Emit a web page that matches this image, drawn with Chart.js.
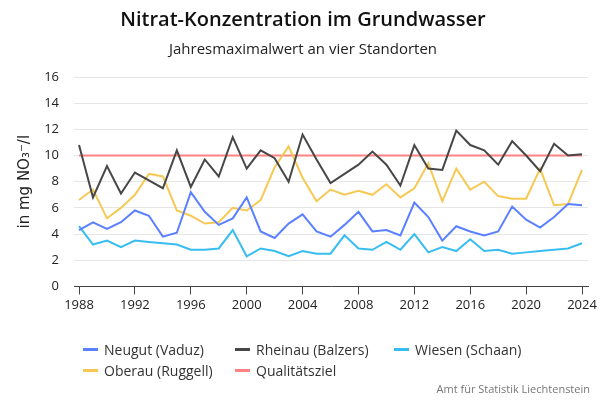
<!DOCTYPE html>
<html>
<head>
<meta charset="utf-8">
<script src="https://cdn.jsdelivr.net/npm/chart.js@4"></script>
<style>
  body { margin: 0; background: #fff; font-family: "Open Sans", sans-serif; }
  #wrap { position: relative; width: 600px; height: 400px; }
  #legend { position: absolute; left: 83px; top: 340px; display: grid;
    grid-template-columns: 152px 159px 170px; row-gap: 3px; font-size: 14px; color: #333; }
  #legend div { display: flex; align-items: center; height: 18px; white-space: nowrap; }
  #legend span.box { display: inline-block; width: 15px; height: 3px; margin-right: 6px; }
  #source { position: absolute; right: 10px; top: 381px; font-size: 11px; color: #777; }
</style>
</head>
<body>
<div id="wrap">
  <canvas id="chart" width="600" height="400"></canvas>
  <div id="legend"></div>
  <div id="source">Amt für Statistik Liechtenstein</div>
</div>
<script>
// years on the x axis
const years = [1988, 1989, 1990, 1991, 1992, 1993, 1994, 1995, 1996, 1997, 1998, 1999,
  2000, 2001, 2002, 2003, 2004, 2005, 2006, 2007, 2008, 2009, 2010, 2011,
  2012, 2013, 2014, 2015, 2016, 2017, 2018, 2019, 2020, 2021, 2022, 2023, 2024];
const tickYears = [1988, 1992, 1996, 2000, 2004, 2008, 2012, 2016, 2020, 2024];

// nitrate max per year, mg NO3/l
const neugut = [4.3, 4.9, 4.4, 4.9, 5.8, 5.4, 3.8, 4.1, 7.2, 5.7, 4.7, 5.2,
  6.8, 4.2, 3.7, 4.8, 5.5, 4.2, 3.8, 4.7, 5.7, 4.2, 4.3, 3.9,
  6.4, 5.3, 3.5, 4.6, 4.2, 3.9, 4.2, 6.1, 5.1, 4.5, 5.3, 6.3, 6.2];
const rheinau = [10.8, 6.8, 9.2, 7.1, 8.7, 8.1, 7.5, 10.4, 7.6, 9.7, 8.4, 11.4,
  9.0, 10.4, 9.8, 8.0, 11.6, 9.7, 7.9, 8.6, 9.3, 10.3, 9.3, 7.7,
  10.8, 9.0, 8.9, 11.9, 10.8, 10.4, 9.3, 11.1, 10.0, 8.8, 10.9, 10.0, 10.1];
const wiesen = [4.6, 3.2, 3.5, 3.0, 3.5, 3.4, 3.3, 3.2, 2.8, 2.8, 2.9, 4.3,
  2.3, 2.9, 2.7, 2.3, 2.7, 2.5, 2.5, 3.9, 2.9, 2.8, 3.4, 2.8,
  4.0, 2.6, 3.0, 2.7, 3.6, 2.7, 2.8, 2.5, 2.6, 2.7, 2.8, 2.9, 3.3];
const oberau = [6.6, 7.4, 5.2, 6.0, 7.0, 8.6, 8.4, 5.8, 5.4, 4.8, 4.9, 6.0,
  5.8, 6.6, 9.1, 10.7, 8.3, 6.5, 7.4, 7.0, 7.3, 7.0, 7.8, 6.8,
  7.5, 9.4, 6.5, 9.0, 7.4, 8.0, 6.9, 6.7, 6.7, 9.0, 6.2, 6.3, 8.9];
const qualitaetsziel = [10, 10, 10, 10, 10, 10, 10, 10, 10, 10, 10, 10,
  10, 10, 10, 10, 10, 10, 10, 10, 10, 10, 10, 10,
  10, 10, 10, 10, 10, 10, 10, 10, 10, 10, 10, 10, 10];

const series = [
  { label: 'Neugut (Vaduz)', data: neugut, color: '#5b80ff' },
  { label: 'Rheinau (Balzers)', data: rheinau, color: '#474747' },
  { label: 'Wiesen (Schaan)', data: wiesen, color: '#38bdf0' },
  { label: 'Oberau (Ruggell)', data: oberau, color: '#f6c955' },
  { label: 'Qualitätsziel', data: qualitaetsziel, color: '#ff8282' }
];

const ctx = document.getElementById('chart').getContext('2d');

new Chart(ctx, {
  type: 'line',
  data: {
    datasets: series.map(s => ({
      label: s.label,
      data: s.data.map((v, i) => ({ x: years[i], y: v })),
      borderColor: s.color,
      backgroundColor: s.color,
      borderWidth: 2,
      pointRadius: 0,
      tension: 0
    }))
  },
  options: {
    responsive: false,
    animation: false,
    layout: { padding: { top: 8, left: 16, right: 10, bottom: 84 } },
    plugins: {
      legend: { display: false },
      tooltip: { enabled: false },
      title: {
        display: true,
        text: 'Nitrat-Konzentration im Grundwasser',
        color: '#111',
        font: { family: 'Open Sans', size: 20, weight: '600' },
        padding: { top: 0, bottom: 9 }
      },
      subtitle: {
        display: true,
        text: 'Jahresmaximalwert an vier Standorten',
        color: '#222',
        font: { family: 'Open Sans', size: 15 },
        padding: { top: 0, bottom: 18 }
      }
    },
    scales: {
      x: {
        type: 'linear',
        min: 1987.64,
        max: 2024.43,
        afterBuildTicks: scale => {
          scale.ticks = tickYears.map(v => ({ value: v }));
        },
        border: { display: true, color: '#444', width: 1 },
        grid: { drawOnChartArea: false, color: '#444', tickLength: 8 },
        ticks: {
          color: '#222',
          font: { family: 'Open Sans', size: 13 },
          maxRotation: 0,
          callback: v => String(v)
        }
      },
      y: {
        min: 0,
        max: 16,
        afterFit: scale => { scale.width = 58; },
        border: { display: false },
        grid: { color: '#e6e6e6', drawTicks: false },
        ticks: {
          stepSize: 2,
          padding: 15,
          color: '#222',
          font: { family: 'Open Sans', size: 13 }
        },
        title: {
          display: true,
          text: 'in mg NO₃⁻/l',
          color: '#222',
          font: { family: 'DejaVu Sans', size: 15 },
          padding: { top: 0, bottom: 0 }
        }
      }
    }
  }
});

// legend in columns, as in the original
const legend = document.getElementById('legend');
series.forEach(s => {
  const item = document.createElement('div');
  const box = document.createElement('span');
  box.className = 'box';
  box.style.background = s.color;
  item.appendChild(box);
  item.appendChild(document.createTextNode(s.label));
  legend.appendChild(item);
});
</script>
</body>
</html>
